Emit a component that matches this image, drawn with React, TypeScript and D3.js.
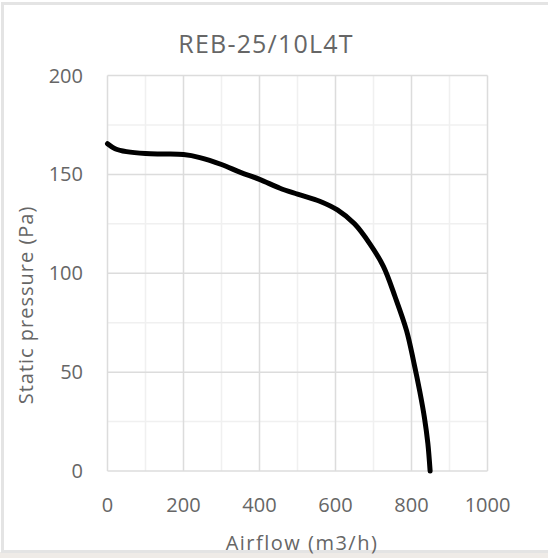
import React from "react";
import * as d3 from "d3";

const titleText = "REB-25/10L4T";
const xLabel = "Airflow (m3/h)";
const yLabel = "Static pressure (Pa)";
const xTicks = [0, 200, 400, 600, 800, 1000];
const yTicks = [0, 50, 100, 150, 200];
const xMinor = [100, 300, 500, 700, 900];
const yMinor = [25, 75, 125, 175];
const airflow = [0, 20, 50, 100, 150, 200, 243, 300, 350, 400, 454, 500, 560, 605, 650, 690, 726, 757, 787, 806, 822, 834, 843, 849];
const pressure = [165.5, 163, 161.5, 160.5, 160.3, 160, 158.5, 155, 151, 147.5, 143, 140, 136.3, 132, 125, 115, 103.5, 88, 71, 55, 40, 27, 14, 0];

export default function App() {
  const W = 548, H = 558;
  const x = d3.scaleLinear().domain([0, 1000]).range([107.5, 487.5]);
  const y = d3.scaleLinear().domain([0, 200]).range([471, 75.5]);
  const pts: [number, number][] = airflow.map((a, i) => [a, pressure[i]]);
  const line = d3.line<[number, number]>().x(d => x(d[0])).y(d => y(d[1])).curve(d3.curveCatmullRom.alpha(0.5));
  const txt = "#666666";
  const font = "'Open Sans', sans-serif";
  return (
    <svg width={W} height={H} style={{ position: "absolute", left: 0, top: 0 }} fontFamily={font}>
      <rect x={0} y={0} width={W} height={H} fill="#ffffff" />
      <rect x={0} y={552} width={W} height={6} fill="#efebe7" />
      <rect x={2.5} y={3.5} width={W + 10} height={548} fill="none" stroke="#e4e4e4" strokeWidth={3} />
      {xMinor.map(v => (
        <line key={"xm" + v} x1={x(v)} x2={x(v)} y1={y(0)} y2={y(200)} stroke="#f0f0f0" strokeWidth={1.5} />
      ))}
      {yMinor.map(v => (
        <line key={"ym" + v} x1={x(0)} x2={x(1000)} y1={y(v)} y2={y(v)} stroke="#f0f0f0" strokeWidth={1.5} />
      ))}
      {xTicks.map(v => (
        <line key={"xg" + v} x1={x(v)} x2={x(v)} y1={y(0)} y2={y(200)} stroke="#dcdcdc" strokeWidth={1.5} />
      ))}
      {yTicks.map(v => (
        <line key={"yg" + v} x1={x(0)} x2={x(1000)} y1={y(v)} y2={y(v)} stroke="#dcdcdc" strokeWidth={1.5} />
      ))}
      <path d={line(pts) || ""} fill="none" stroke="#000" strokeWidth={5} strokeLinejoin="round" strokeLinecap="round" />
      {yTicks.map(v => (
        <text key={"yt" + v} x={83} y={y(v)} dy="0.35em" textAnchor="end" fontSize={20} fill={txt}>{v}</text>
      ))}
      {xTicks.map(v => (
        <text key={"xt" + v} x={x(v)} y={505} dy="0.35em" textAnchor="middle" fontSize={20} fill={txt}>{v}</text>
      ))}
      <text x={266} y={44} dy="0.35em" textAnchor="middle" fontSize={25} letterSpacing={1.2} fill={txt}>{titleText}</text>
      <text x={302} y={543} dy="0.35em" textAnchor="middle" fontSize={20} letterSpacing={1.5} fill={txt}>{xLabel}</text>
      <text transform={`translate(26,305) rotate(-90)`} dy="0.35em" textAnchor="middle" fontSize={20} letterSpacing={1} fill={txt}>{yLabel}</text>
    </svg>
  );
}
